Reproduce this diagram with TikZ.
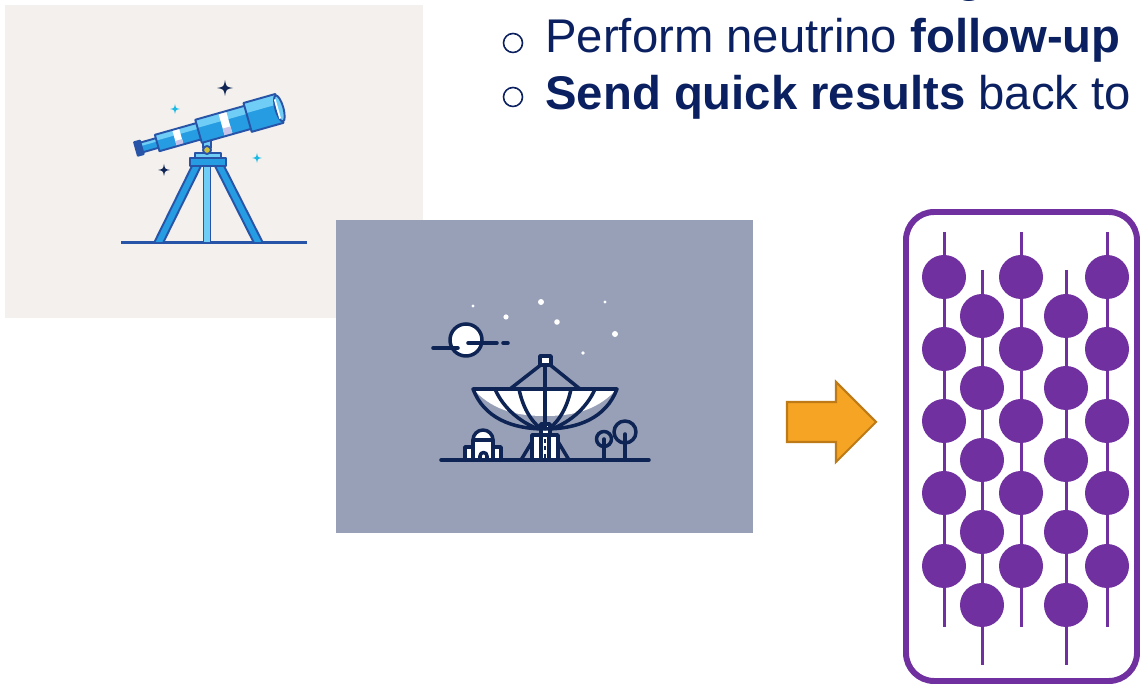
\documentclass[tikz,border=0pt]{standalone}
\usepackage{fontspec}
\setmainfont{Liberation Sans}
\definecolor{navy}{RGB}{10,32,96}
\definecolor{paper}{RGB}{243,240,237}
\definecolor{slate}{RGB}{152,160,184}
\definecolor{ink}{RGB}{14,36,84}
\definecolor{scopeblue}{RGB}{40,84,168}
\definecolor{tubeblue}{RGB}{38,156,226}
\definecolor{tubelight}{RGB}{112,206,246}
\definecolor{lavender}{RGB}{200,196,234}
\definecolor{cyanstar}{RGB}{28,186,226}
\definecolor{knob}{RGB}{204,192,58}
\definecolor{violet}{RGB}{112,48,160}
\definecolor{amber}{RGB}{245,165,35}
\definecolor{amberdark}{RGB}{190,122,22}
% four-pointed sparkle: x, y, size, colour
\newcommand{\sparkle}[4]{%
  \fill[#4] (#1,#2-#3) .. controls (#1+0.15*#3,#2-0.15*#3) .. (#1+#3,#2)
    .. controls (#1+0.15*#3,#2+0.15*#3) .. (#1,#2+#3)
    .. controls (#1-0.15*#3,#2+0.15*#3) .. (#1-#3,#2)
    .. controls (#1-0.15*#3,#2-0.15*#3) .. cycle;}
% one section of the telescope tube: from u1 to u2, half width h
\newcommand{\tubeseg}[3]{%
  \fill[tubeblue] (#1,-#3) rectangle (#2,#3);
  \fill[tubelight] (#1,-#3) rectangle (#2,-0.3*#3);}
\begin{document}
\begin{tikzpicture}[x=0.02cm,y=-0.02cm,
  bodytext/.style={anchor=base west,inner sep=0,text=navy,font=\fontsize{26.9}{32}\selectfont},
  scopeline/.style={draw=scopeblue,line width=1.1pt,line join=round},
  radio/.style={draw=ink,line width=2pt,line cap=round,line join=round},
  string/.style={draw=violet,line width=1.7pt},
  pmt/.style={fill=violet},
  blockarrow/.style={fill=amber,draw=amberdark,line width=1.2pt,line join=miter}]
\useasboundingbox (0,0) rectangle (1140,688);
\clip (0,0) rectangle (1140,688);
\fill[white] (0,0) rectangle (1140,688);

% ---------- optical telescope panel ----------
\fill[paper] (5,5) rectangle (423,318);
\draw[scopeblue,line width=1.7pt] (121,243) -- (307,243);
% tripod legs
\filldraw[fill=tubeblue,scopeline] (192,166) -- (201,166) -- (163,243) -- (154,243) -- cycle;
\filldraw[fill=tubeblue,scopeline] (215,166) -- (224,166) -- (263,243) -- (254,243) -- cycle;
\filldraw[fill=tubelight,scopeline] (203.5,166) rectangle (210.5,243);
% tripod head
\filldraw[fill=tubeblue,scopeline] (190,158) rectangle (226,166);
\filldraw[fill=tubelight,scopeline] (195,153) rectangle (221,158);
% mount bracket and knob
\filldraw[fill=tubelight,scopeline] (203,134) rectangle (211,148);
\filldraw[fill=knob,scopeline] (207,150) circle (4);
% tube, tilted up to the right
\begin{scope}[shift={(136,149)},rotate=15.8]
  \tubeseg{5}{26}{5}
  \draw[scopeline] (5,-5) rectangle (26,5);
  \filldraw[fill=scopeblue,scopeline] (0,-7) rectangle (6,7);
  \tubeseg{22}{66}{8.5}
  \fill[white] (40,-8.5) rectangle (47,8.5);
  \fill[lavender] (40,3) rectangle (47,8.5);
  \draw[scopeline] (22,-8.5) rectangle (66,8.5);
  \tubeseg{65}{117}{12}
  \fill[white] (89,-12) rectangle (97,12);
  \fill[lavender] (89,4) rectangle (97,12);
  \draw[scopeline] (65,-12) rectangle (117,12);
  \tubeseg{116}{149}{15}
  \draw[scopeline] (116,-15) rectangle (149,15);
  \filldraw[fill=tubelight,scopeline] (149,0) ellipse [x radius=4,y radius=13.5];
  \draw[white,line width=1pt] (147,-10) -- (147,10);
\end{scope}
% sparkles
\sparkle{225}{88}{8}{ink}
\sparkle{175}{109}{5}{cyanstar}
\sparkle{257}{158}{5}{cyanstar}
\sparkle{164}{170}{6}{ink}

% ---------- radio telescope panel ----------
\fill[slate] (336,220) rectangle (753,533);
% stars
\fill[white] (473,306) circle (1.6);
\fill[white] (506,317) circle (2.6);
\fill[white] (541,302) circle (3);
\fill[white] (557,322) circle (2.8);
\fill[white] (605,302) circle (1.6);
\fill[white] (615,334) circle (3);
\fill[white] (583,353) circle (1.8);
% moon with streaks
\filldraw[fill=white,radio] (466,340) circle (16);
\draw[radio] (433,348) -- (458,348);
\draw[radio] (468,343) -- (497,343);
\draw[radio] (503,343) -- (508,343);
% feed and struts
\draw[radio] (542,364) -- (510,389);
\draw[radio] (549,364) -- (580,389);
\draw[radio] (545,361) -- (545,428);
\filldraw[fill=white,radio] (540,356) rectangle (551,365);
% pedestal
\draw[radio] (533,440) -- (521,460);
\draw[radio] (557,440) -- (569,460);
\filldraw[fill=white,radio] (541,424) rectangle (550,436);
\filldraw[fill=white,radio] (532,435) rectangle (558,460);
\draw[radio] (541,436) -- (541,460);
\draw[radio] (549,436) -- (549,460);
\draw[ink,line width=1.6pt,dash pattern=on 2.2pt off 2pt] (545,439) -- (545,460);
% dish
\begin{scope}
  \clip (473,389) -- (617,389) .. controls (606,418) and (578,429) .. (545,429)
        .. controls (512,429) and (484,418) .. cycle;
  \fill[white] (473,385) -- (617,385) -- (614,392)
        .. controls (595,411) and (572,416) .. (545,416)
        .. controls (518,416) and (495,411) .. (476,392) -- cycle;
  \draw[radio] (495,389) .. controls (503,408) and (522,425) .. (545,431);
  \draw[radio] (519,389) .. controls (523,409) and (533,425) .. (545,431);
  \draw[radio] (595,389) .. controls (587,408) and (568,425) .. (545,431);
  \draw[radio] (571,389) .. controls (567,409) and (557,425) .. (545,431);
  \draw[radio] (545,389) -- (545,431);
\end{scope}
\draw[radio] (473,389) -- (617,389) .. controls (606,418) and (578,429) .. (545,429)
      .. controls (512,429) and (484,418) .. cycle;
% observatory dome
\filldraw[fill=white,radio] (465,447) rectangle (473,460);
\filldraw[fill=white,radio] (493,447) rectangle (501,460);
\filldraw[fill=white,radio] (473,440) arc[start angle=180,end angle=360,radius=10] -- (493,460) -- (473,460) -- cycle;
\draw[radio] (473,440) -- (493,440);
\draw[radio] (480,460) -- (480,456) arc[start angle=180,end angle=360,radius=3.5] -- (487,460);
% trees
\draw[radio] (604,439) circle (7.5);
\draw[radio] (604,439) -- (604,460);
\draw[radio] (625,432) circle (11);
\draw[radio] (625,434) -- (625,460);
% ground
\draw[radio] (441,460) -- (649,460);

% ---------- text ----------
\node[bodytext,font=\fontsize{26.9}{32}\selectfont\bfseries,anchor=base] (above) at (970,-8) {g};
\draw[navy,line width=0.9pt] (513,43) circle (9.5);
\node[bodytext] (followup) at (545,53) {Perform neutrino \textbf{follow-up}};
\draw[navy,line width=0.9pt] (513,97) circle (9.5);
\node[bodytext] (sendback) at (545,110) {\textbf{Send quick results} back to};

% ---------- block arrow ----------
\draw[blockarrow] (787,402) -- (836,402) -- (836,382) -- (876,422)
  -- (836,462) -- (836,442) -- (787,442) -- cycle;

% ---------- detector string module ----------
\draw[violet,line width=3.4pt,rounded corners=16pt] (906,212) rectangle (1137,681);
\foreach \cx in {944,1021,1107}{
  \draw[string] (\cx,232) -- (\cx,627);
  \foreach \cy in {277,349,421,493,566}
    \fill[pmt] (\cx,\cy) circle (22);
}
\foreach \cx in {982,1066}{
  \draw[string] (\cx,270) -- (\cx,665);
  \foreach \cy in {316,388,460,532,605}
    \fill[pmt] (\cx,\cy) circle (22);
}
\end{tikzpicture}
\end{document}
